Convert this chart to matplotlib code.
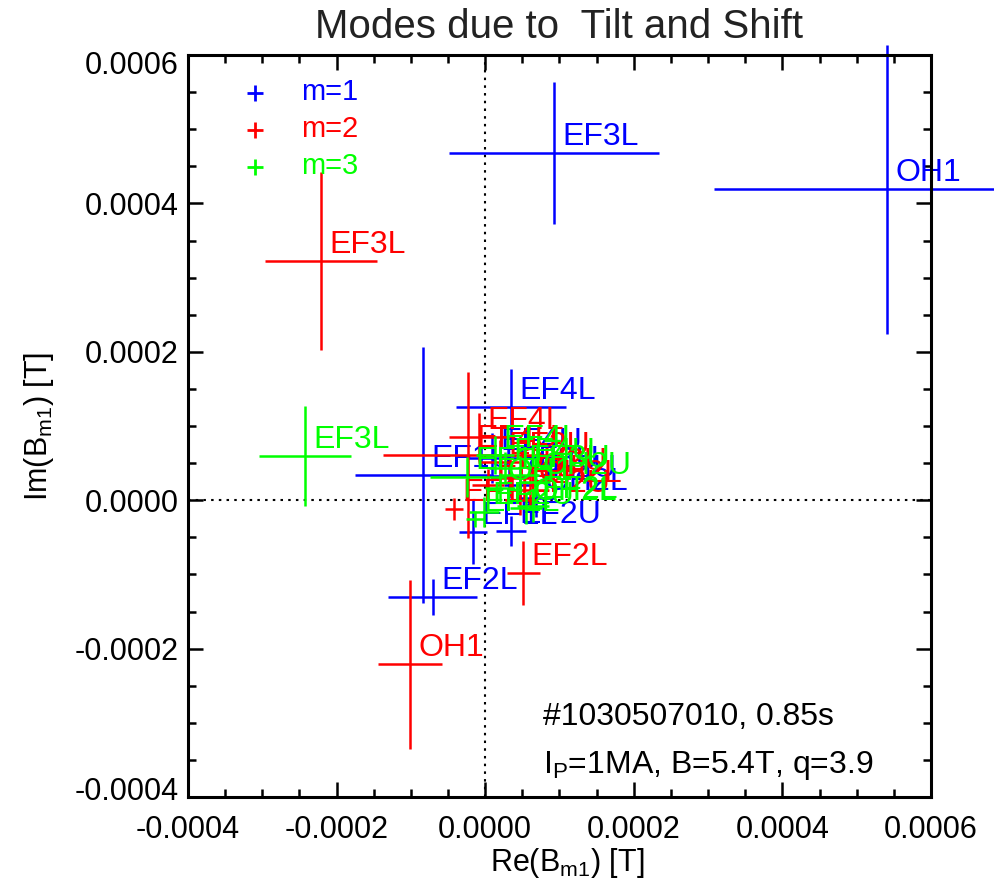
import matplotlib
matplotlib.use("Agg")
import matplotlib.pyplot as plt
import matplotlib.transforms as mtransforms
from matplotlib.ticker import MultipleLocator, FormatStrFormatter

plt.rcParams["font.family"] = ["Liberation Sans", "DejaVu Sans"]
plt.rcParams["mathtext.fontset"] = "custom"
plt.rcParams["mathtext.rm"] = "Liberation Sans"
plt.rcParams["mathtext.it"] = "Liberation Sans"
plt.rcParams["axes.unicode_minus"] = False

# coil names per mode
names_m1 = ["OH1", "EF3L", "EF4L", "EF1U", "EF2L", "EF1L", "EF4U", "EF3U", "OH2L", "EF2U", "OH2U"]
re_m1 = [0.000541, 0.0000926, 0.0000347, -0.0000837, -0.0000703, -0.0000164, 0.0000092, 0.0000320, 0.0000684, 0.0000347, 0.0000468]
im_m1 = [0.000419, 0.000468, 0.0001256, 0.0000340, -0.0001305, -0.0000429, 0.0000569, 0.0000326, 0.0000030, -0.0000415, 0.0000205]
re_err_m1 = [0.000233, 0.000141, 0.000074, 0.0000915, 0.0000599, 0.0000182, 0.0000336, 0.000030, 0.000025, 0.000020, 0.000022]
im_err_m1 = [0.000195, 0.0000957, 0.0000512, 0.0001725, 0.0000243, 0.0000431, 0.0000337, 0.000030, 0.000025, 0.000020, 0.000022]

names_m2 = ["EF3L", "OH1", "EF2L", "EF4U", "EF4L", "EF1L", "EF3U", "OH2U", "OH2L", "EF1U", "EF2U"]
re_m2 = [-0.000221, -0.0001012, 0.0000509, -0.0000231, -0.0000083, -0.0000420, 0.0000199, 0.0000334, 0.0000603, 0.0000038, 0.0000468]
im_m2 = [0.000322, -0.000221, -0.0000981, 0.0000609, 0.0000852, -0.0000119, 0.0000515, 0.0000300, 0.0000138, 0.0000205, 0.0000003]
re_err_m2 = [0.000076, 0.0000431, 0.0000222, 0.000114, 0.000040, 0.0000121, 0.000030, 0.000025, 0.000025, 0.000022, 0.000020]
im_err_m2 = [0.000120, 0.0001139, 0.0000431, 0.000112, 0.0000323, 0.0000148, 0.000030, 0.000025, 0.000025, 0.000022, 0.000020]

names_m3 = ["EF3L", "EF1U", "EF1L", "EF2U", "OH2L", "EF4L", "EF4U", "EF3U", "OH2U", "EF2L", "OH1"]
re_m3 = [-0.0002425, -0.0000245, -0.0000137, -0.0000016, 0.0000549, 0.0000132, 0.0000266, 0.0000468, 0.0000670, 0.0000643, 0.0000199]
im_m3 = [0.0000596, 0.0000313, -0.0000253, -0.0000159, -0.0000105, 0.0000609, 0.0000434, 0.0000340, 0.0000245, -0.0000078, 0.0000164]
re_err_m3 = [0.0000619, 0.0000498, 0.0000121, 0.000020, 0.000022, 0.000025, 0.000022, 0.000025, 0.000020, 0.000022, 0.000020]
im_err_m3 = [0.0000674, 0.000027, 0.0000108, 0.000020, 0.000022, 0.000025, 0.000022, 0.000025, 0.000020, 0.000022, 0.000020]

mode_labels = ["m=1", "m=2", "m=3"]
mode_colors = ["#0000ff", "#ff0000", "#00ff00"]

major_ticks = [-0.0004, -0.0002, 0.0, 0.0002, 0.0004, 0.0006]

fig = plt.figure(figsize=(9.95, 8.82), dpi=100)
ax = fig.add_axes([188 / 995, 85 / 882, 743 / 995, 742 / 882])

ax.set_xlim(-0.0004, 0.0006)
ax.set_ylim(-0.0004, 0.0006)

ax.axvline(0.0, color="k", lw=1.5, ls=(0, (1.2, 2.5)), zorder=1)
ax.axhline(0.0, color="k", lw=1.5, ls=(0, (1.2, 2.5)), zorder=1)

all_modes = [
    (names_m1, re_m1, im_m1, re_err_m1, im_err_m1),
    (names_m2, re_m2, im_m2, re_err_m2, im_err_m2),
    (names_m3, re_m3, im_m3, re_err_m3, im_err_m3),
]

for crrt_ind, (names, xs, ys, xe, ye) in enumerate(all_modes):
    crrt_color = mode_colors[crrt_ind]
    cont = ax.errorbar(xs, ys, xerr=xe, yerr=ye, fmt="none", ecolor=crrt_color,
                       elinewidth=1.8, capsize=0, zorder=2 + crrt_ind)
    for coll in cont.lines[2]:
        coll.set_clip_on(False)
    for name, x, y in zip(names, xs, ys):
        ax.annotate(name, (x, y), xytext=(8, 8), textcoords="offset pixels",
                    color=crrt_color, fontsize=23, va="baseline", ha="left",
                    annotation_clip=False, zorder=2 + crrt_ind)

# legend drawn by hand, IDL style
legend_y_marker = [0.9488, 0.899, 0.849]
legend_y_text = [0.9394, 0.8895, 0.8396]
for crrt_ind in range(3):
    ax.plot([0.090], [legend_y_marker[crrt_ind]], marker="+", ms=12, mew=2.0,
            color=mode_colors[crrt_ind], transform=ax.transAxes, ls="none")
    ax.text(0.152, legend_y_text[crrt_ind], mode_labels[crrt_ind], color=mode_colors[crrt_ind],
            fontsize=21, transform=ax.transAxes, va="baseline")

ax.text(0.478, 0.097, "#1030507010, 0.85s", fontsize=23, transform=ax.transAxes, va="baseline")
ax.text(0.478, 0.0323, r"I$_\mathrm{P}$=1MA, B=5.4T, q=3.9", fontsize=23,
        transform=ax.transAxes, va="baseline")

ax.set_xticks(major_ticks)
ax.set_yticks(major_ticks)
ax.xaxis.set_minor_locator(MultipleLocator(0.00005))
ax.yaxis.set_minor_locator(MultipleLocator(0.00005))
ax.xaxis.set_major_formatter(FormatStrFormatter("%.4f"))
ax.yaxis.set_major_formatter(FormatStrFormatter("%.4f"))

ax.tick_params(which="both", direction="in", top=True, right=True, width=1.8, labelsize=22)
ax.tick_params(which="major", length=11)
ax.tick_params(which="minor", length=5.5)
ax.tick_params(axis="x", pad=13)
ax.tick_params(axis="y", pad=7)
for spine in ax.spines.values():
    spine.set_linewidth(2.2)

# IDL keeps the end labels of the y axis inside the axis range
y_ticks = ax.yaxis.get_major_ticks()
shift_down = mtransforms.ScaledTranslation(0, -0.07, fig.dpi_scale_trans)
shift_up = mtransforms.ScaledTranslation(0, 0.08, fig.dpi_scale_trans)
y_ticks[-1].label1.set_transform(y_ticks[-1].label1.get_transform() + shift_down)
y_ticks[0].label1.set_transform(y_ticks[0].label1.get_transform() + shift_up)

ax.set_title("Modes due to  Tilt and Shift", fontsize=29, pad=12, color="#222222")
ax.set_xlabel(r"Re(B$_\mathrm{m1}$) [T]", fontsize=22)
ax.set_ylabel(r"Im(B$_\mathrm{m1}$) [T]", fontsize=22)
ax.xaxis.set_label_coords(0.51, -0.066)
ax.yaxis.set_label_coords(-0.178, 0.5)

fig.savefig("out.png", dpi=100)
